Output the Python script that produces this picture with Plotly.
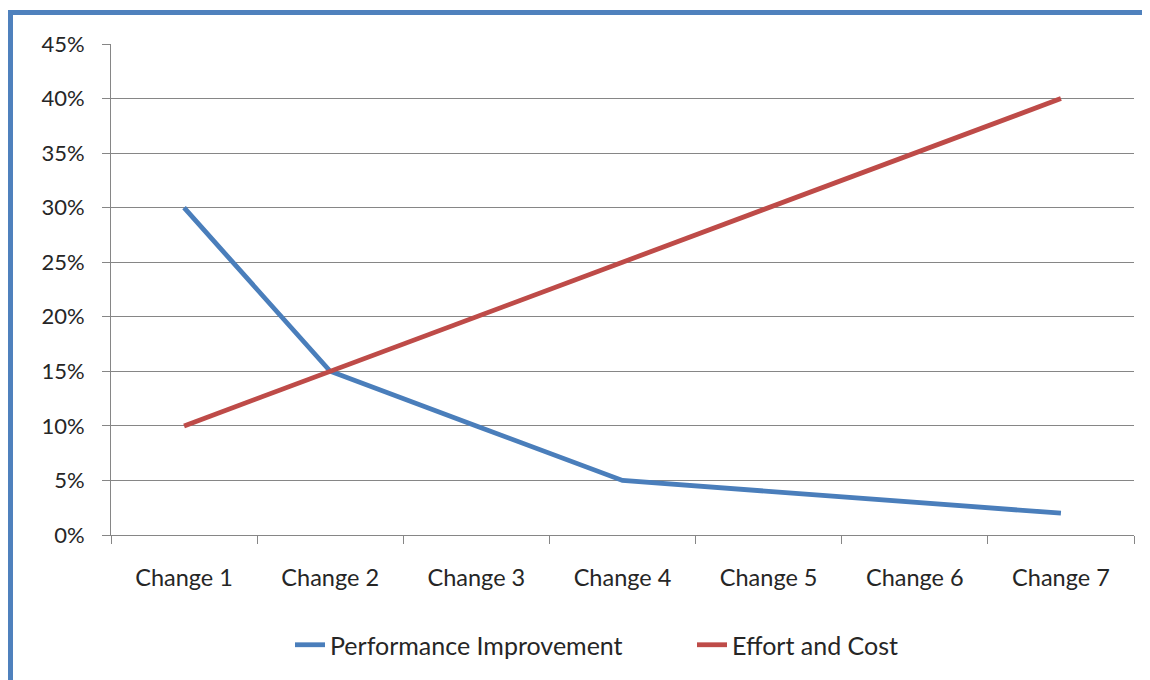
import plotly.graph_objects as go

categories = ["Change 1", "Change 2", "Change 3", "Change 4", "Change 5", "Change 6", "Change 7"]
performance = [0.30, 0.15, 0.10, 0.05, 0.04, 0.03, 0.02]
effort = [0.10, 0.15, 0.20, 0.25, 0.30, 0.35, 0.40]
y_ticks = [0, 0.05, 0.10, 0.15, 0.20, 0.25, 0.30, 0.35, 0.40, 0.45]
y_labels = ["0%", "5%", "10%", "15%", "20%", "25%", "30%", "35%", "40%", "45%"]

OFF = 8  # page body margin
W, H = 1150 - OFF, 680 - OFF
L, T = 111 - OFF, 44 - OFF
R = W - (1134 - OFF)
B = H - (535 - OFF)
pw, ph = W - L - R, H - T - B

def px(x):
    return (x - OFF - L) / pw

def py(y):
    return (H - B - (y - OFF)) / ph

fig = go.Figure()
fig.add_trace(go.Scatter(x=categories, y=performance, mode="lines", name="Performance Improvement",
                         line=dict(color="#4A7EBB", width=4.8)))
fig.add_trace(go.Scatter(x=categories, y=effort, mode="lines", name="Effort and Cost",
                         line=dict(color="#BE4B48", width=4.8)))

font_fam = "Lato, Calibri, Carlito, sans-serif"
fig.update_layout(
    width=W, height=H,
    margin=dict(l=L, r=R, t=T, b=B, autoexpand=False),
    paper_bgcolor="white", plot_bgcolor="white",
    font=dict(family=font_fam, size=22, color="#262626"),
    showlegend=True,
    legend=dict(orientation="h", x=px(290), xanchor="left", y=py(645), yanchor="middle",
                font=dict(size=25, color="#262626"), entrywidth=357, entrywidthmode="pixels",
                bgcolor="rgba(0,0,0,0)"),
    xaxis=dict(type="category", range=[-0.5, 6.5], showgrid=False, showline=True,
               linecolor="#868686", linewidth=1, ticks="outside", ticklen=8, tickcolor="#868686",
               tickson="boundaries", ticklabelstandoff=22, zeroline=False, fixedrange=True,
               tickfont=dict(size=23.5)),
    yaxis=dict(range=[0, 0.45], tickvals=y_ticks, ticktext=y_labels, showgrid=True,
               gridcolor="#868686", gridwidth=1, showline=True, linecolor="#868686", linewidth=1,
               ticks="outside", ticklen=8, tickcolor="#868686", ticklabelstandoff=13,
               zeroline=False, fixedrange=True, tickfont=dict(size=22)),
    shapes=[dict(type="rect", xref="paper", yref="paper",
                 x0=px(10.5), y0=py(720), x1=px(1170), y1=py(12.5),
                 line=dict(color="#4F81BD", width=5), fillcolor="rgba(0,0,0,0)", layer="above")],
)

fig.write_html("out.html")
